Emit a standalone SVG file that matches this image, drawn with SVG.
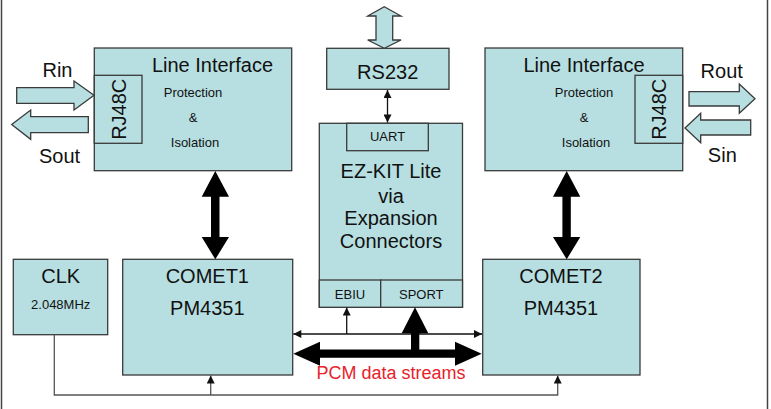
<svg xmlns="http://www.w3.org/2000/svg" width="771" height="409" viewBox="0 0 771 409">
<defs>
<style>
.box{fill:#b7dfe1;stroke:#3a3a3a;stroke-width:1.3}
.t{font-family:"Liberation Sans",Arial,sans-serif;fill:#111;text-anchor:middle}
.big{font-size:20px}
.sm{font-size:13px}
.thin{fill:none;stroke:#111;stroke-width:1.3}
.clk{fill:none;stroke:#555;stroke-width:1.3}
.blk{fill:#b7dfe1;stroke:#3a3a3a;stroke-width:1.3}
</style>
<marker id="ah" viewBox="0 0 10 10" refX="10" refY="5" markerWidth="9" markerHeight="8" markerUnits="userSpaceOnUse" orient="auto-start-reverse">
<path d="M0,0 L10,5 L0,10 Z" fill="#111"/>
</marker>
</defs>
<g id="frame">
<line x1="1.5" y1="0" x2="1.5" y2="409" stroke="#444" stroke-width="1.5"/>
<line x1="767.5" y1="0" x2="767.5" y2="409" stroke="#444" stroke-width="1.5"/>
</g>
<g id="li1">
<rect class="box" x="94.3" y="48" width="197.4" height="122.7"/>
<rect class="box" x="94.3" y="75.3" width="47.7" height="68"/>
<text class="t big" transform="translate(125.5,109.3) rotate(-90)">RJ48C</text>
<text class="t big" x="212.5" y="71.7">Line Interface</text>
<text class="t sm" x="193" y="97.3">Protection</text>
<text class="t sm" x="193" y="121.7">&amp;</text>
<text class="t sm" x="195" y="146.7">Isolation</text>
</g>
<g id="li2">
<rect class="box" x="485" y="48" width="197.7" height="122.7"/>
<rect class="box" x="635" y="75.3" width="47.7" height="68"/>
<text class="t big" transform="translate(666.2,109.3) rotate(-90)">RJ48C</text>
<text class="t big" x="584" y="71.7">Line Interface</text>
<text class="t sm" x="584" y="97.3">Protection</text>
<text class="t sm" x="584" y="121.7">&amp;</text>
<text class="t sm" x="586" y="146.7">Isolation</text>
</g>
<g id="rs232">
<rect class="box" x="326.7" y="48.3" width="122.3" height="41"/>
<text class="t big" x="387.7" y="78.5">RS232</text>
</g>
<g id="ezkit">
<rect class="box" x="319.3" y="123.3" width="143.2" height="184"/>
<rect class="box" x="346.7" y="123.3" width="81.6" height="27.4"/>
<text class="t sm" x="387.5" y="141">UART</text>
<text class="t big" x="391" y="178.3">EZ-KIT Lite</text>
<text class="t big" x="391" y="202.7">via</text>
<text class="t big" x="391" y="225">Expansion</text>
<text class="t big" x="391" y="248.3">Connectors</text>
<rect class="box" x="319.3" y="280" width="61.4" height="27.3"/>
<rect class="box" x="380.7" y="280" width="81.8" height="27.3"/>
<text class="t sm" x="350" y="298.5">EBIU</text>
<text class="t sm" x="421.3" y="298.5">SPORT</text>
</g>
<g id="clk">
<rect class="box" x="13.3" y="259.3" width="94.4" height="75.4"/>
<text class="t big" x="60.7" y="282.7">CLK</text>
<text class="t sm" x="60.7" y="309.3">2.048MHz</text>
</g>
<g id="comet1">
<rect class="box" x="122.7" y="259.3" width="170" height="115.7"/>
<text class="t big" x="207.3" y="283.3">COMET1</text>
<text class="t big" x="207.3" y="315">PM4351</text>
</g>
<g id="comet2">
<rect class="box" x="482.7" y="259.3" width="157.3" height="115.7"/>
<text class="t big" x="561" y="283.3">COMET2</text>
<text class="t big" x="561" y="315">PM4351</text>
</g>
<g id="labels">
<text class="t big" x="57.5" y="77.3">Rin</text>
<text class="t big" x="59.5" y="162.7">Sout</text>
<text class="t big" x="721.7" y="78.3">Rout</text>
<text class="t big" x="722.3" y="161.7">Sin</text>
<text class="t" x="391" y="379" style="font-size:18px;fill:#e8212b">PCM data streams</text>
</g>
<g id="connectors">
<polygon class="blk" points="16.7,87.7 74,87.7 74,81 94,95.3 74,110 74,103.3 16.7,103.3"/>
<polygon class="blk" points="88.3,116.7 30.7,116.7 30.7,110 11.7,124.5 30.7,139.3 30.7,132.7 88.3,132.7"/>
<polygon class="blk" points="689,91.7 739.3,91.7 739.3,84 755,98.7 739.3,113.3 739.3,106 689,106"/>
<polygon class="blk" points="750.7,120 700.7,120 700.7,113.3 685,128 700.7,142.7 700.7,135 750.7,135"/>
<polygon class="blk" points="384.3,6.7 401,16 392.7,16 392.7,40 401,40 384.3,48.3 367.7,40 376,40 376,16 367.7,16"/>
<line class="thin" x1="387.5" y1="90" x2="387.5" y2="122.5" marker-start="url(#ah)" marker-end="url(#ah)"/>
<polygon fill="#000" points="215.3,171 229,196.7 219.5,196.7 219.5,237 229,237 215.3,259.3 201.7,237 211,237 211,196.7 201.7,196.7"/>
<polygon fill="#000" points="566.7,171 580.3,196.7 570.8,196.7 570.8,237 580.3,237 566.7,259.3 553,237 562.4,237 562.4,196.7 553,196.7"/>
<line class="thin" x1="293.3" y1="334" x2="482" y2="334" marker-start="url(#ah)" marker-end="url(#ah)"/>
<line class="thin" x1="346.7" y1="334" x2="346.7" y2="307.5" marker-end="url(#ah)"/>
<polygon fill="#000" points="293.3,353.7 320,341.7 320,349.6 411,349.6 411,333.3 401.7,333.3 415,307.3 428.3,333.3 419.3,333.3 419.3,349.6 455,349.6 455,341.7 481.7,353.7 455,365.7 455,357.8 320,357.8 320,365.7"/>
<polyline class="clk" points="54.3,334.7 54.3,395 557.7,395 557.7,375.5" marker-end="url(#ah)"/>
<line class="clk" x1="210.7" y1="395" x2="210.7" y2="375.5" marker-end="url(#ah)"/>
</g>
</svg>
